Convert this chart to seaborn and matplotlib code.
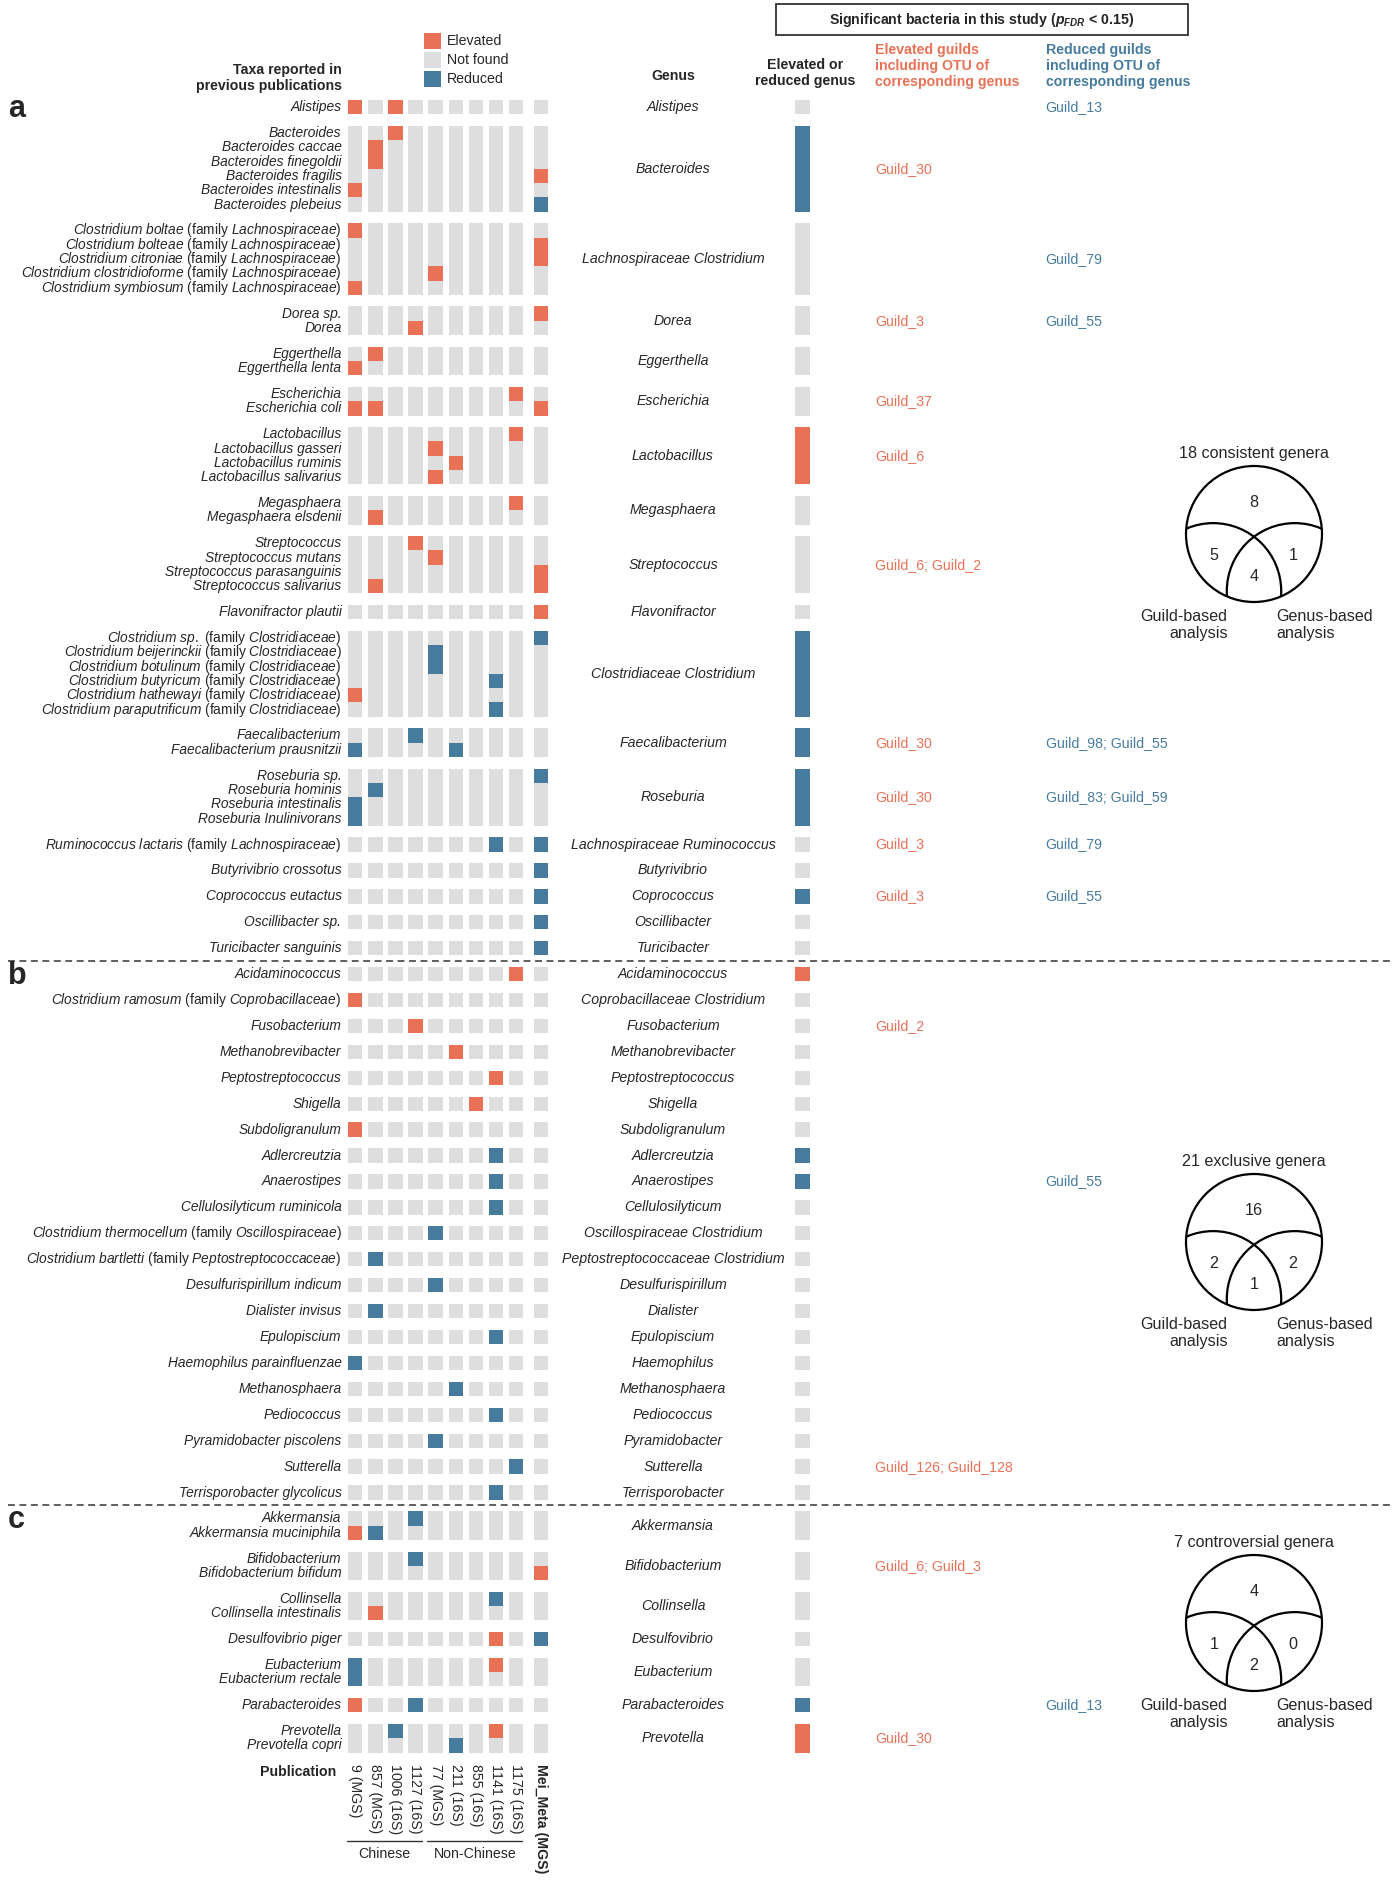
import matplotlib
matplotlib.use("Agg")
import matplotlib.pyplot as plt
from matplotlib.patches import Rectangle, Circle
import pandas as pd
import seaborn as sns

sns.set_theme(style="white")
plt.rcParams['font.family'] = ['Liberation Sans', 'DejaVu Sans']
plt.rcParams['mathtext.fontset'] = 'custom'
plt.rcParams['mathtext.rm'] = 'Liberation Sans'
plt.rcParams['mathtext.it'] = 'Liberation Sans:italic'
plt.rcParams['mathtext.bf'] = 'Liberation Sans:bold:italic'

# publications (columns)
pubs = ["9 (MGS)", "857 (MGS)", "1006 (16S)", "1127 (16S)", "77 (MGS)",
        "211 (16S)", "855 (16S)", "1141 (16S)", "1175 (16S)", "Mei_Meta (MGS)"]
pub_groups = [("Chinese", 0, 3), ("Non-Chinese", 4, 8)]

# E = elevated, R = reduced, . = not found (one char per publication)
a_taxa = [
    ["Alistipes"],
    ["Bacteroides", "Bacteroides caccae", "Bacteroides finegoldii", "Bacteroides fragilis",
     "Bacteroides intestinalis", "Bacteroides plebeius"],
    ["Clostridium boltae (family Lachnospiraceae)", "Clostridium bolteae (family Lachnospiraceae)",
     "Clostridium citroniae (family Lachnospiraceae)", "Clostridium clostridioforme (family Lachnospiraceae)",
     "Clostridium symbiosum (family Lachnospiraceae)"],
    ["Dorea sp.", "Dorea"],
    ["Eggerthella", "Eggerthella lenta"],
    ["Escherichia", "Escherichia coli"],
    ["Lactobacillus", "Lactobacillus gasseri", "Lactobacillus ruminis", "Lactobacillus salivarius"],
    ["Megasphaera", "Megasphaera elsdenii"],
    ["Streptococcus", "Streptococcus mutans", "Streptococcus parasanguinis", "Streptococcus salivarius"],
    ["Flavonifractor plautii"],
    ["Clostridium sp. (family Clostridiaceae)", "Clostridium beijerinckii (family Clostridiaceae)",
     "Clostridium botulinum (family Clostridiaceae)", "Clostridium butyricum (family Clostridiaceae)",
     "Clostridium hathewayi (family Clostridiaceae)", "Clostridium paraputrificum (family Clostridiaceae)"],
    ["Faecalibacterium", "Faecalibacterium prausnitzii"],
    ["Roseburia sp.", "Roseburia hominis", "Roseburia intestinalis", "Roseburia Inulinivorans"],
    ["Ruminococcus lactaris (family Lachnospiraceae)"],
    ["Butyrivibrio crossotus"],
    ["Coprococcus eutactus"],
    ["Oscillibacter sp."],
    ["Turicibacter sanguinis"],
]
a_cells = [
    ["E.E......."],
    ["..E.......", ".E........", ".E........", ".........E", "E.........", ".........R"],
    ["E.........", ".........E", ".........E", "....E.....", "E........."],
    [".........E", "...E......"],
    [".E........", "E........."],
    ["........E.", "EE.......E"],
    ["........E.", "....E.....", ".....E....", "....E....."],
    ["........E.", ".E........"],
    ["...E......", "....E.....", ".........E", ".E.......E"],
    [".........E"],
    [".........R", "....R.....", "....R.....", ".......R..", "E.........", ".......R.."],
    ["...R......", "R....R...."],
    [".........R", ".R........", "R.........", "R........."],
    [".......R.R"],
    [".........R"],
    [".........R"],
    [".........R"],
    [".........R"],
]
a_genus = ["Alistipes", "Bacteroides", "Lachnospiraceae Clostridium", "Dorea", "Eggerthella",
           "Escherichia", "Lactobacillus", "Megasphaera", "Streptococcus", "Flavonifractor",
           "Clostridiaceae Clostridium", "Faecalibacterium", "Roseburia",
           "Lachnospiraceae Ruminococcus", "Butyrivibrio", "Coprococcus", "Oscillibacter", "Turicibacter"]
a_status = ["N", "R", "N", "N", "N", "N", "E", "N", "N", "N", "R", "R", "R", "N", "N", "R", "N", "N"]
a_up = ["", "Guild_30", "", "Guild_3", "", "Guild_37", "Guild_6", "", "Guild_6; Guild_2", "",
        "", "Guild_30", "Guild_30", "Guild_3", "", "Guild_3", "", ""]
a_down = ["Guild_13", "", "Guild_79", "Guild_55", "", "", "", "", "", "",
          "", "Guild_98; Guild_55", "Guild_83; Guild_59", "Guild_79", "", "Guild_55", "", ""]

b_taxa = [["Acidaminococcus"], ["Clostridium ramosum (family Coprobacillaceae)"], ["Fusobacterium"],
          ["Methanobrevibacter"], ["Peptostreptococcus"], ["Shigella"], ["Subdoligranulum"],
          ["Adlercreutzia"], ["Anaerostipes"], ["Cellulosilyticum ruminicola"],
          ["Clostridium thermocellum (family Oscillospiraceae)"],
          ["Clostridium bartletti (family Peptostreptococcaceae)"], ["Desulfurispirillum indicum"],
          ["Dialister invisus"], ["Epulopiscium"], ["Haemophilus parainfluenzae"], ["Methanosphaera"],
          ["Pediococcus"], ["Pyramidobacter piscolens"], ["Sutterella"], ["Terrisporobacter glycolicus"]]
b_cells = [["........E."], ["E........."], ["...E......"], [".....E...."], [".......E.."],
           ["......E..."], ["E........."], [".......R.."], [".......R.."], [".......R.."],
           ["....R....."], [".R........"], ["....R....."], [".R........"], [".......R.."],
           ["R........."], [".....R...."], [".......R.."], ["....R....."], ["........R."],
           [".......R.."]]
b_genus = ["Acidaminococcus", "Coprobacillaceae Clostridium", "Fusobacterium", "Methanobrevibacter",
           "Peptostreptococcus", "Shigella", "Subdoligranulum", "Adlercreutzia", "Anaerostipes",
           "Cellulosilyticum", "Oscillospiraceae Clostridium", "Peptostreptococcaceae Clostridium",
           "Desulfurispirillum", "Dialister", "Epulopiscium", "Haemophilus", "Methanosphaera",
           "Pediococcus", "Pyramidobacter", "Sutterella", "Terrisporobacter"]
b_status = ["E", "N", "N", "N", "N", "N", "N", "R", "R", "N", "N", "N", "N", "N", "N", "N", "N",
            "N", "N", "N", "N"]
b_up = ["", "", "Guild_2"] + [""] * 16 + ["Guild_126; Guild_128", ""]
b_down = [""] * 8 + ["Guild_55"] + [""] * 12

c_taxa = [["Akkermansia", "Akkermansia muciniphila"], ["Bifidobacterium", "Bifidobacterium bifidum"],
          ["Collinsella", "Collinsella intestinalis"], ["Desulfovibrio piger"],
          ["Eubacterium", "Eubacterium rectale"], ["Parabacteroides"], ["Prevotella", "Prevotella copri"]]
c_cells = [["...R......", "ER........"], ["...R......", ".........E"], [".......R..", ".E........"],
           [".......E.R"], ["R......E..", "R........."], ["E..R......"], ["..R....E..", ".....R...."]]
c_genus = ["Akkermansia", "Bifidobacterium", "Collinsella", "Desulfovibrio", "Eubacterium",
           "Parabacteroides", "Prevotella"]
c_status = ["N", "N", "N", "N", "N", "R", "E"]
c_up = ["", "Guild_6; Guild_3", "", "", "", "", "Guild_30"]
c_down = ["", "", "", "", "", "Guild_13", ""]

venn_titles = ["18 consistent genera", "21 exclusive genera", "7 controversial genera"]
# counts: neither, guild only, genus only, both
venn_counts = [[8, 5, 1, 4], [16, 2, 2, 1], [4, 1, 0, 2]]

colors = {"E": "#E87156", "R": "#467B9D", "N": "#DEDEDE", ".": "#DEDEDE"}
legend_labels = [("E", "Elevated"), ("N", "Not found"), ("R", "Reduced")]

sections = [("a", a_taxa, a_cells, a_genus, a_status, a_up, a_down),
            ("b", b_taxa, b_cells, b_genus, b_status, b_up, b_down),
            ("c", c_taxa, c_cells, c_genus, c_status, c_up, c_down)]

# layout (pixels)
TOP, ROW_H, GAP = 100, 14.3, 11.62
X0, COL_STEP, CW = 348, 20.1, 14.4
col_slot = [0, 1, 2, 3, 4, 5, 6, 7, 8, 9.25]
col_x = [X0 + COL_STEP * s for s in col_slot]
LABEL_X, GENUS_X, STATUS_X, UP_X, DOWN_X = 341.5, 673, 795, 875, 1045.5
FS = 10.2
FS_ROW = 9.9

fig = plt.figure(figsize=(13.99, 18.85), dpi=100)
ax = fig.add_axes([0, 0, 1, 1])
ax.set_xlim(0, 1399)
ax.set_ylim(1885, 0)
ax.axis("off")


def taxon_label(name):
    if "(family " in name:
        sp, fam = name[:-1].split(" (family ")
        return r"$\mathit{%s}$ (family $\mathit{%s}$)" % (sp.replace(" ", r"\ "), fam), "normal"
    return name, "italic"


cells = []
y = TOP
sep_y = []
for si, (tag, taxa, cl, genus, status, up, down) in enumerate(sections):
    if si > 0:
        sep_y.append(y - GAP / 2)
    ax.text(8, y + ROW_H / 2 + 2, tag, fontsize=22, fontweight="bold", ha="left", va="center")
    for gi, rows in enumerate(taxa):
        n = len(rows)
        for ri, name in enumerate(rows):
            yr = y + ri * ROW_H
            lab, style = taxon_label(name)
            ax.text(LABEL_X, yr + ROW_H / 2, lab, fontsize=FS_ROW, style=style, ha="right", va="center")
            for ci, code in enumerate(cl[gi][ri]):
                cells.append((col_x[ci], yr, CW, ROW_H, colors[code]))
        yc = y + n * ROW_H / 2
        cells.append((STATUS_X, y, 14.7, n * ROW_H, colors[status[gi]]))
        ax.text(GENUS_X, yc, genus[gi], fontsize=FS, style="italic", ha="center", va="center")
        if up[gi]:
            ax.text(UP_X, yc, up[gi], fontsize=FS, color=colors["E"], ha="left", va="center")
        if down[gi]:
            ax.text(DOWN_X, yc, down[gi], fontsize=FS, color=colors["R"], ha="left", va="center")
        y += n * ROW_H + GAP

df = pd.DataFrame(cells, columns=["x", "y", "w", "h", "c"])
ax.bar(df["x"], df["h"], width=df["w"], bottom=df["y"], color=df["c"], align="edge", linewidth=0)

for sy in sep_y:
    ax.plot([8, 1392], [sy, sy], ls=(0, (4.5, 3)), color="#333333", lw=1.1)

# headers
ax.text(LABEL_X, 78, "Taxa reported in\nprevious publications", fontsize=FS, fontweight="bold",
        ha="right", va="center", multialignment="right", linespacing=1.2)
for k, (code, lab) in enumerate(legend_labels):
    ax.add_patch(Rectangle((424, 33.3 + 19 * k), 17, 16, color=colors[code], lw=0))
    ax.text(447, 41.3 + 19 * k, lab, fontsize=FS, ha="left", va="center")
ax.text(GENUS_X, 76, "Genus", fontsize=FS, fontweight="bold", ha="center", va="center")
ax.add_patch(Rectangle((776, 4), 412, 31, fill=False, ec="#333333", lw=1.3))
ax.text(982, 19.5, r"Significant bacteria in this study ($\mathbf{p}_{\mathbf{FDR}}$ < 0.15)",
        fontsize=FS, fontweight="bold", ha="center", va="center")
ax.text(805, 73, "Elevated or\nreduced genus", fontsize=FS, fontweight="bold", ha="center",
        va="center", linespacing=1.2)
ax.text(UP_X, 66, "Elevated guilds\nincluding OTU of\ncorresponding genus", fontsize=FS,
        fontweight="bold", color=colors["E"], ha="left", va="center", linespacing=1.2)
ax.text(DOWN_X, 66, "Reduced guilds\nincluding OTU of\ncorresponding genus", fontsize=FS,
        fontweight="bold", color=colors["R"], ha="left", va="center", linespacing=1.2)

# publication labels
ax.text(336, 1772, "Publication", fontsize=FS, fontweight="bold", ha="right", va="center")
for ci, p in enumerate(pubs):
    ax.text(col_x[ci] + CW / 2, 1764, p, fontsize=FS, rotation=270, ha="center", va="top",
            fontweight="bold" if ci == len(pubs) - 1 else "normal")
for lab, c0, c1 in pub_groups:
    x_a, x_b = col_x[c0] - 1, col_x[c1] + CW - 1
    ax.plot([x_a, x_b], [1840.7, 1840.7], color="#333333", lw=1)
    ax.text((x_a + x_b) / 2, 1853.5, lab, fontsize=FS, ha="center", va="center")

# venn diagrams
venn_y = [534, 1242, 1623]
R = 68
VX = 1254
for vy, title, cnt in zip(venn_y, venn_titles, venn_counts):
    outer = Circle((VX, vy), R, fill=False, ec="black", lw=1.6)
    ax.add_patch(outer)
    for sgn in (-1, 1):
        inner = Circle((VX + sgn * 0.6 * R, vy + 0.84 * R), R, fill=False, ec="black", lw=1.6)
        ax.add_patch(inner)
        inner.set_clip_path(outer)
    ax.text(VX, vy - 80.5, title, fontsize=11.6, ha="center", va="center")
    ax.text(VX, vy - 31.5, str(cnt[0]), fontsize=11.6, ha="center", va="center")
    ax.text(VX - 40, vy + 21, str(cnt[1]), fontsize=11.6, ha="center", va="center")
    ax.text(VX + 39, vy + 21, str(cnt[2]), fontsize=11.6, ha="center", va="center")
    ax.text(VX, vy + 42, str(cnt[3]), fontsize=11.6, ha="center", va="center")
    ax.text(VX - 26.5, vy + 91, "Guild-based\nanalysis", fontsize=11.6, ha="right", va="center",
            multialignment="right", linespacing=1.15)
    ax.text(VX + 22.5, vy + 91, "Genus-based\nanalysis", fontsize=11.6, ha="left", va="center",
            multialignment="left", linespacing=1.15)

fig.savefig("out.png", dpi=100)
